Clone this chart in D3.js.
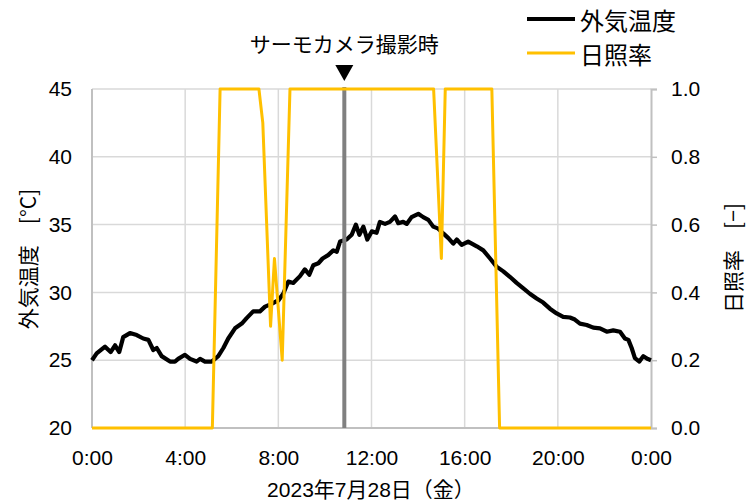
<!DOCTYPE html>
<html><head><meta charset="utf-8">
<script src="https://cdn.jsdelivr.net/npm/d3@7"></script>
<style>body{margin:0;background:#fff}svg{display:block}</style>
</head><body>
<svg id="c" width="746" height="500"></svg>
<script>
// ---- data ----
const tempHours = [0,0.20,0.56,0.80,0.99,1.17,1.34,1.63,1.92,2.20,2.42,2.63,2.78,2.99,3.35,3.56,3.70,3.99,4.21,4.49,4.64,4.85,5.14,5.42,5.64,5.85,6.14,6.43,6.64,6.92,7.21,7.43,7.71,7.93,8.00,8.21,8.43,8.64,8.93,9.14,9.33,9.50,9.72,9.90,10.14,10.36,10.51,10.65,10.93,11.15,11.33,11.48,11.65,11.82,12.01,12.22,12.36,12.58,12.79,13.01,13.15,13.36,13.51,13.72,14.01,14.22,14.44,14.65,14.87,15.08,15.30,15.51,15.66,15.87,16.15,16.52,16.80,17.09,17.37,17.66,17.94,18.23,18.52,18.80,19.09,19.37,19.66,19.95,20.23,20.52,20.73,20.95,21.24,21.52,21.81,22.10,22.38,22.67,22.88,23.03,23.17,23.31,23.50,23.67,23.84,24.0];
const tempValues = [25.0,25.5,26.0,25.6,26.1,25.6,26.7,27.0,26.85,26.6,26.5,25.75,25.9,25.3,24.9,24.9,25.1,25.4,25.1,24.9,25.1,24.9,24.9,25.3,25.9,26.6,27.35,27.7,28.1,28.6,28.6,28.95,29.15,29.35,29.4,29.9,30.8,30.7,31.2,31.7,31.3,32.0,32.15,32.5,32.75,33.1,33.0,33.75,33.9,34.25,35.0,34.25,34.85,33.9,34.5,34.4,35.2,35.05,35.2,35.6,35.1,35.2,35.05,35.55,35.8,35.55,35.35,34.85,34.7,34.35,34.0,33.6,33.9,33.5,33.75,33.4,33.1,32.5,31.9,31.55,31.15,30.7,30.3,29.9,29.55,29.25,28.8,28.45,28.2,28.15,28.0,27.7,27.6,27.4,27.35,27.1,27.2,27.1,26.6,26.5,25.9,25.15,24.9,25.3,25.1,25.0];
const sunHours = [0,5.1667,5.5,7.1667,7.3333,7.6667,7.8333,8.1667,8.5,14.6667,15.0,15.1667,17.1667,17.5,24];
const sunValues = [0,0,1,1,0.9,0.3,0.5,0.2,1,1,0.5,1,1,0,0];
const xTickHours = [0,4,8,12,16,20,24];
const xTickLabels = ["0:00","4:00","8:00","12:00","16:00","20:00","0:00"];
const yLeftTicks = [20,25,30,35,40,45];
const yRightTicks = [0,0.2,0.4,0.6,0.8,1.0];
const cameraHour = 10.8333;
const seriesNames = ["外気温度","日照率"];
const xTitle = "2023年7月28日（金）";
const yLeftTitle = "外気温度\u3000[°C]";
const yRightTitle = "日照率\u3000[−]";
const annotation = "サーモカメラ撮影時";

// ---- layout ----
const svg = d3.select("#c");
const L = 92, R = 651, T = 89, B = 428;
const x = d3.scaleLinear().domain([0,24]).range([L,R]);
const yL = d3.scaleLinear().domain([20,45]).range([B,T]);
const yR = d3.scaleLinear().domain([0,1]).range([B,T]);
const numFont = "'Liberation Sans', Arial, 'Noto Sans CJK JP', sans-serif";
const jpFont = "'Noto Sans CJK JP', sans-serif";
const grid = "#d9d9d9", axisC = "#c0c0c0";

// gridlines
svg.append("g").selectAll("line").data(yLeftTicks.filter(d=>d>20)).join("line")
  .attr("x1",L).attr("x2",R).attr("y1",d=>yL(d)).attr("y2",d=>yL(d))
  .attr("stroke",grid).attr("stroke-width",1.5);
svg.append("g").selectAll("line").data(xTickHours.filter(d=>d>0&&d<24)).join("line")
  .attr("x1",d=>x(d)).attr("x2",d=>x(d)).attr("y1",T).attr("y2",B)
  .attr("stroke",grid).attr("stroke-width",1.5);

// axes lines
svg.append("line").attr("x1",L).attr("x2",L).attr("y1",T).attr("y2",B).attr("stroke",axisC).attr("stroke-width",2);
svg.append("line").attr("x1",L).attr("x2",R).attr("y1",B).attr("y2",B).attr("stroke",axisC).attr("stroke-width",2);

// right axis via d3.axisRight
const gR = svg.append("g").attr("transform",`translate(${R},0)`)
  .call(d3.axisRight(yR).tickValues(yRightTicks).tickFormat(d3.format(".1f")).tickSize(6).tickPadding(14));
gR.select(".domain").attr("stroke",axisC).attr("stroke-width",2);
gR.selectAll(".tick line").attr("stroke",axisC).attr("stroke-width",1.5);
gR.selectAll("text").attr("font-family",numFont).attr("font-size",21).attr("fill","#000");

// left axis labels
const gL = svg.append("g").attr("transform",`translate(${L},0)`)
  .call(d3.axisLeft(yL).tickValues(yLeftTicks).tickSize(0).tickPadding(20));
gL.select(".domain").remove();
gL.selectAll("text").attr("font-family",numFont).attr("font-size",21).attr("fill","#000");

// bottom axis labels
const gB = svg.append("g").attr("transform",`translate(0,${B})`)
  .call(d3.axisBottom(x).tickValues(xTickHours).tickFormat((d,i)=>xTickLabels[i]).tickSize(0).tickPadding(22));
gB.select(".domain").remove();
gB.selectAll("text").attr("font-family",numFont).attr("font-size",21).attr("fill","#000");

// temperature line
const tempData = tempHours.map((h,i)=>[h,tempValues[i]]);
svg.append("path").datum(tempData)
  .attr("d",d3.line().x(d=>x(d[0])).y(d=>yL(d[1])))
  .attr("fill","none").attr("stroke","#000").attr("stroke-width",4.2).attr("stroke-linejoin","round");

// camera line
svg.append("line").attr("x1",x(cameraHour)).attr("x2",x(cameraHour)).attr("y1",T-2).attr("y2",B)
  .attr("stroke","#808080").attr("stroke-width",4);

// sunshine line
const sunData = sunHours.map((h,i)=>[h,sunValues[i]]);
svg.append("path").datum(sunData)
  .attr("d",d3.line().x(d=>x(d[0])).y(d=>yR(d[1])))
  .attr("fill","none").attr("stroke","#FFC000").attr("stroke-width",3).attr("stroke-linejoin","round");

// annotation
const cx = x(cameraHour);
svg.append("text").attr("x",cx).attr("y",43).attr("text-anchor","middle").attr("dominant-baseline","central")
  .attr("font-family",jpFont).attr("font-size",21).text(annotation);
svg.append("path").attr("d",`M${cx-9},65 L${cx+9},65 L${cx},81 Z`).attr("fill","#000");

// legend
const lg = svg.append("g");
[[19,"#000",4],[53,"#FFC000",3]].forEach((s,i)=>{
  lg.append("line").attr("x1",527).attr("x2",575).attr("y1",s[0]).attr("y2",s[0]).attr("stroke",s[1]).attr("stroke-width",s[2]);
  lg.append("text").attr("x",580).attr("y",s[0]).attr("dominant-baseline","central")
    .attr("font-family",jpFont).attr("font-size",24).text(seriesNames[i]);
});

// axis titles
svg.append("text").attr("transform","translate(27,259) rotate(-90)").attr("text-anchor","middle").attr("dominant-baseline","central")
  .attr("font-family",jpFont).attr("font-size",21).text(yLeftTitle);
svg.append("text").attr("transform","translate(732,258) rotate(-90)").attr("text-anchor","middle").attr("dominant-baseline","central")
  .attr("font-family",jpFont).attr("font-size",21).text(yRightTitle);
svg.append("text").attr("x",371).attr("y",489).attr("text-anchor","middle").attr("dominant-baseline","central")
  .attr("font-family",numFont).attr("font-size",21).text(xTitle);
</script>
</body></html>
